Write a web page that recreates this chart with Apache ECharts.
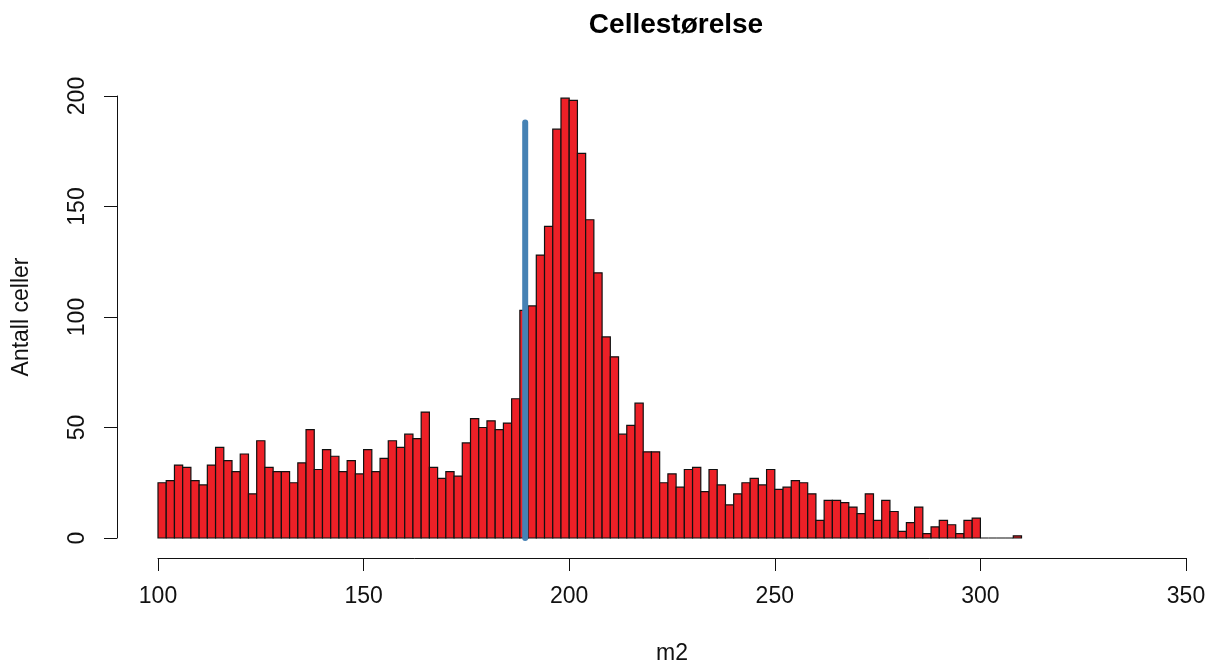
<!DOCTYPE html>
<html>
<head>
<meta charset="utf-8">
<script src="https://cdn.jsdelivr.net/npm/echarts@6/dist/echarts.min.js"></script>
<style>
html,body{margin:0;padding:0;background:#fff;}
#chart{width:1210px;height:670px;}
</style>
</head>
<body>
<div id="chart"></div>
<script>
// Histogram bins: width 2 starting at 100
const binStart = 100;
const binWidth = 2;
const counts = [
  25,26,33,32,26,24,33,41,35,30,38,20,44,32,30,30,25,34,49,31,40,37,30,35,29,40,
  30,36,44,41,47,45,57,32,27,30,28,43,54,50,53,49,52,63,
  103,105,128,141,185,199,198,174,144,120,91,82,47,51,61,
  39,39,25,29,23,31,32,21,31,24,15,20,25,27,24,31,22,23,26,
  25,20,8,17,17,16,14,11,20,8,17,12,3,7,14,2,5,8,6,2,8,9,
  0,0,0,0,
  1
];
const xTicks = [100, 150, 200, 250, 300, 350];
const yTicks = [0, 50, 100, 150, 200];
const markX = 189.3;
const markTop = 188;

const binData = counts.map((c, i) => [binStart + i * binWidth, binStart + (i + 1) * binWidth, c]);

const FONT = "'Liberation Sans', Arial, sans-serif";
const chart = echarts.init(document.getElementById('chart'), null, {renderer: 'canvas'});

chart.setOption({
  backgroundColor: '#ffffff',
  animation: false,
  title: {
    text: 'Cellestørelse',
    left: 671,
    textAlign: 'center',
    top: 6,
    textStyle: {fontFamily: FONT, fontSize: 28, fontWeight: 'bold', color: '#000'}
  },
  grid: {left: 158, right: 24, top: 96, bottom: 128, containLabel: false},
  xAxis: {
    type: 'value',
    min: xTicks[0],
    max: xTicks[xTicks.length - 1],
    interval: 50,
    offset: 20,
    name: 'm2',
    nameLocation: 'middle',
    nameGap: 84,
    nameTextStyle: {fontFamily: FONT, fontSize: 23, color: '#111'},
    axisLine: {show: true, onZero: false, lineStyle: {color: '#111', width: 1}},
    axisTick: {show: true, length: 13, lineStyle: {color: '#111', width: 1}},
    axisLabel: {fontFamily: FONT, fontSize: 23, color: '#111', margin: 27,
      formatter: v => xTicks.includes(v) ? String(v) : ''},
    splitLine: {show: false}
  },
  yAxis: {
    type: 'value',
    min: yTicks[0],
    max: yTicks[yTicks.length - 1],
    interval: 50,
    offset: 41,
    name: 'Antall celler',
    nameLocation: 'middle',
    nameGap: 84,
    nameTextStyle: {fontFamily: FONT, fontSize: 23, color: '#111'},
    axisLine: {show: true, onZero: false, lineStyle: {color: '#111', width: 1}},
    axisTick: {show: true, length: 13, lineStyle: {color: '#111', width: 1}},
    axisLabel: {fontFamily: FONT, fontSize: 23, color: '#111', margin: 28, rotate: 90,
      formatter: v => yTicks.includes(v) ? String(v) : ''},
    splitLine: {show: false}
  },
  series: [
    {
      type: 'custom',
      data: binData,
      encode: {x: [0, 1], y: 2},
      clip: false,
      renderItem: function (params, api) {
        const p0 = api.coord([api.value(0), 0]);
        const p1 = api.coord([api.value(1), api.value(2)]);
        return {
          type: 'rect',
          shape: {x: p0[0], y: p1[1], width: p1[0] - p0[0], height: p0[1] - p1[1]},
          style: {fill: '#ED2027', stroke: '#111', lineWidth: 1.2}
        };
      }
    },
    {
      type: 'line',
      data: [[markX, 0], [markX, markTop]],
      symbol: 'none',
      lineStyle: {color: '#4682B4', width: 6, cap: 'round'},
      z: 5
    }
  ]
});
</script>
</body>
</html>
